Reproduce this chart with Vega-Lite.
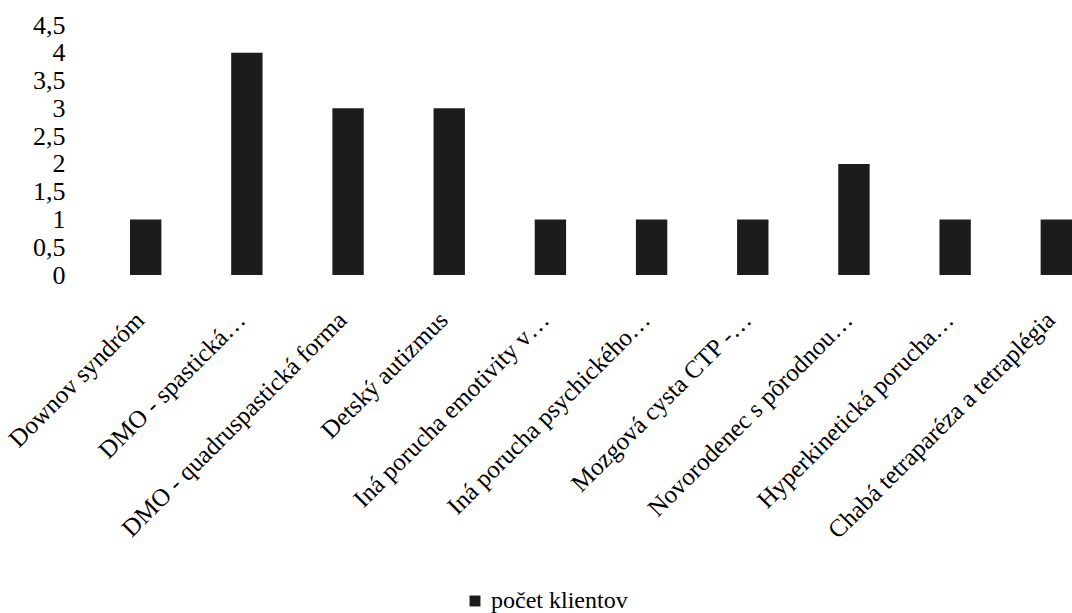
{
  "$schema": "https://vega.github.io/schema/vega-lite/v6.json",
  "autosize": "none",
  "padding": {"left": 95, "top": 25, "right": 0, "bottom": 338},
  "width": 977,
  "height": 250,
  "background": "white",
  "data": {
    "values": [
      {"kategoria": "Downov syndróm", "pocet": 1, "serie": "počet klientov"},
      {"kategoria": "DMO - spastická…", "pocet": 4, "serie": "počet klientov"},
      {"kategoria": "DMO - quadruspastická forma", "pocet": 3, "serie": "počet klientov"},
      {"kategoria": "Detský autizmus", "pocet": 3, "serie": "počet klientov"},
      {"kategoria": "Iná porucha emotivity v…", "pocet": 1, "serie": "počet klientov"},
      {"kategoria": "Iná porucha  psychického…", "pocet": 1, "serie": "počet klientov"},
      {"kategoria": "Mozgová cysta CTP -…", "pocet": 1, "serie": "počet klientov"},
      {"kategoria": "Novorodenec s pôrodnou…", "pocet": 2, "serie": "počet klientov"},
      {"kategoria": "Hyperkinetická porucha…", "pocet": 1, "serie": "počet klientov"},
      {"kategoria": "Chabá tetraparéza a tetraplégia", "pocet": 1, "serie": "počet klientov"}
    ]
  },
  "config": {
    "view": {"stroke": null},
    "font": "Liberation Serif"
  },
  "mark": {"type": "bar", "color": "#1c1c1c"},
  "encoding": {
    "x": {
      "field": "kategoria",
      "type": "nominal",
      "sort": null,
      "title": null,
      "scale": {"paddingInner": 0.69, "paddingOuter": 0.173, "align": 1},
      "axis": {
        "labelAngle": -45,
        "labelFont": "Liberation Serif",
        "labelFontSize": 25,
        "labelColor": "#000",
        "labelPadding": 32,
        "labelOffset": -14,
        "ticks": false,
        "domain": false,
        "labelLimit": 400
      }
    },
    "y": {
      "field": "pocet",
      "type": "quantitative",
      "title": null,
      "scale": {"domain": [0, 4.5], "nice": false},
      "axis": {
        "values": [0, 0.5, 1, 1.5, 2, 2.5, 3, 3.5, 4, 4.5],
        "labelExpr": "replace(format(datum.value, '~g'), '.', ',')",
        "labelFont": "Liberation Serif",
        "labelFontSize": 26,
        "labelColor": "#000",
        "labelPadding": 30,
        "ticks": false,
        "domain": false,
        "grid": false
      }
    },
    "fill": {
      "field": "serie",
      "type": "nominal",
      "scale": {"range": ["#1c1c1c"]},
      "legend": {
        "title": null,
        "orient": "none",
        "legendX": 368,
        "legendY": 564,
        "symbolType": "square",
        "symbolSize": 120,
        "labelFont": "Liberation Serif",
        "labelFontSize": 24,
        "labelColor": "#000"
      }
    }
  }
}
